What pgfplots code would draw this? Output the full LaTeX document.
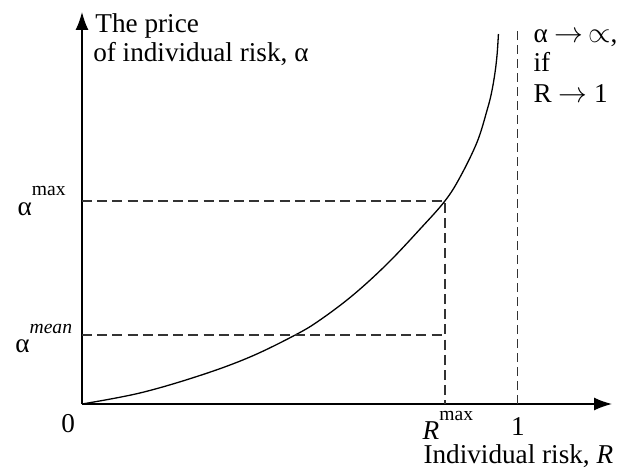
\documentclass[border=0pt]{standalone}
\usepackage{pgfplots}
\pgfplotsset{compat=1.18}
\usepackage{fontspec}
\setmainfont{Liberation Serif}
\usetikzlibrary{arrows.meta}
\newcommand{\supx}[1]{\raisebox{9.5pt}{\fontsize{9.8}{10}\selectfont #1}}
\begin{document}
\fontsize{13.6}{15}\selectfont
\begin{tikzpicture}
\useasboundingbox (-41pt,-33.5pt) rectangle (271.5pt,202pt);
\begin{axis}[
  at={(0,0)}, anchor=origin,
  scale only axis, width=265pt, height=196pt,
  xmin=0, xmax=1.218, ymin=0, ymax=3.92,
  axis lines=left, ticks=none,
  axis line style={line width=0.75pt, -{Latex[length=9pt,width=6.5pt]}},
  clip=false,
]
\addplot[black, line width=0.65pt, smooth, tension=0.6] coordinates {
(0,0) (0.133,0.11) (0.271,0.285) (0.386,0.47) (0.49,0.69) (0.547,0.84)
(0.623,1.09) (0.701,1.40) (0.777,1.75) (0.834,2.03) (0.869,2.27) (0.908,2.62)
(0.931,2.94) (0.941,3.11) (0.949,3.31) (0.954,3.50) (0.957,3.70)
};
\addplot[black!80, line width=0.6pt, dash pattern=on 5pt off 2.6pt] coordinates {(0,2.03) (0.834,2.03) (0.834,0)};
\addplot[black!80, line width=0.6pt, dash pattern=on 5pt off 2.6pt] coordinates {(0,0.69) (0.834,0.69)};
\addplot[black!80, line width=0.6pt, dash pattern=on 4.5pt off 2.5pt] coordinates {(1,0) (1,3.76)};
\node[anchor=base west, inner sep=0] at (axis cs:0.030,3.71) {The price};
\node[anchor=base west, inner sep=0] at (axis cs:0.025,3.42) {of individual risk, α};
\node[anchor=base west, inner sep=0] at (axis cs:1.037,3.61) {α $\rightarrow\,\propto$,};
\node[anchor=base west, inner sep=0] at (axis cs:1.037,3.32) {if};
\node[anchor=base west, inner sep=0] at (axis cs:1.037,3.01) {R $\rightarrow$ 1};
\node[anchor=base west, inner sep=0] at (axis cs:-0.149,1.89) {α\supx{max}};
\node[anchor=base west, inner sep=0] at (axis cs:-0.154,0.52) {α\supx{\itshape mean}};
\node[anchor=base, inner sep=0] at (axis cs:-0.032,-0.28) {0};
\node[anchor=base west, inner sep=0] at (axis cs:0.782,-0.35) {\itshape R\supx{\upshape max}};
\node[anchor=base, inner sep=0] at (axis cs:1.002,-0.31) {1};
\node[anchor=base west, inner sep=0] at (axis cs:0.784,-0.595) {Individual risk, \itshape R};
\end{axis}
\end{tikzpicture}
\end{document}
